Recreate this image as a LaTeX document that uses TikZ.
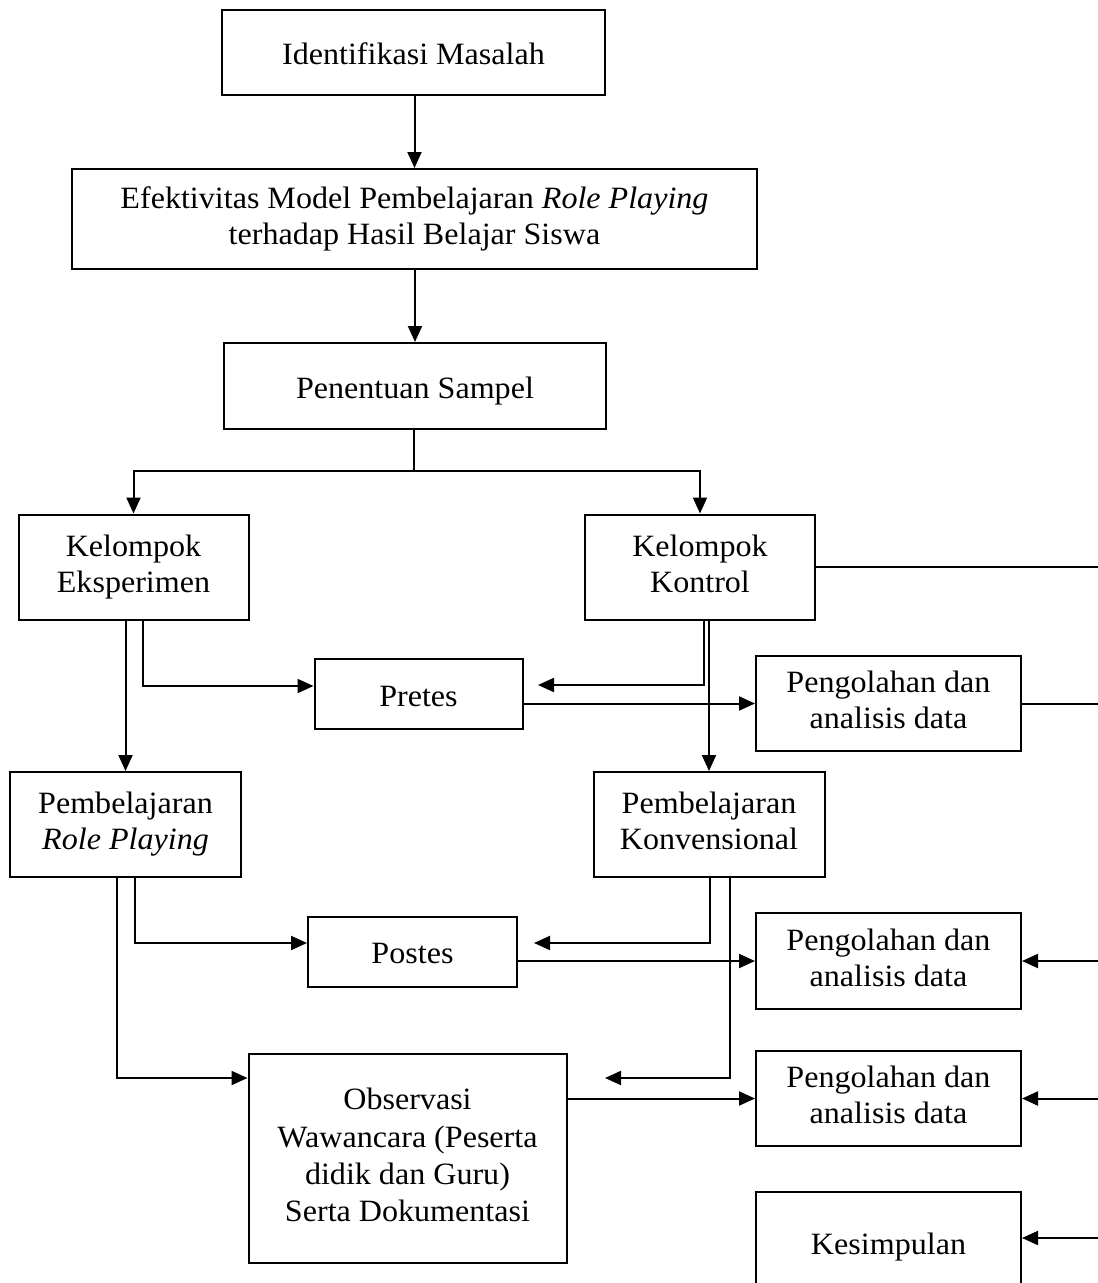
\documentclass[tikz,border=0pt]{standalone}
\usepackage{fontspec}
\setmainfont{Liberation Serif}[FakeStretch=1.035]
\usetikzlibrary{arrows.meta}
\newcommand{\bxstrut}{\vrule height 31pt depth 7pt width 0pt\relax}
\begin{document}
\begin{tikzpicture}[x=1pt,y=-1pt,
  box/.style={draw, line width=2pt, align=center, inner sep=0pt,
    font=\fontsize{31}{36}\selectfont,
    execute at begin node=\bxstrut, execute at end node=\bxstrut},
  conn/.style={line width=2pt},
  arr/.style={conn, -{Triangle[length=16pt,width=14pt]}}]
\useasboundingbox (0,0) rectangle (1098,1283);
\fill[white] (0,0) rectangle (1098,1283);
\node[box, minimum width=383, minimum height=85] (iden) at (413.5,52.5) {Identifikasi Masalah};
\node[box, minimum width=685, minimum height=100] (efek) at (414.5,219) {Efektivitas Model Pembelajaran \textit{Role Playing}\\terhadap Hasil Belajar Siswa};
\node[box, minimum width=382, minimum height=86] (pen) at (415,386) {Penentuan Sampel};
\node[box, minimum width=230, minimum height=105] (eksp) at (133.5,567) {Kelompok\\Eksperimen};
\node[box, minimum width=230, minimum height=105] (kont) at (700,567) {Kelompok\\Kontrol};
\node[box, minimum width=208, minimum height=70] (pre) at (418.5,694) {Pretes};
\node[box, minimum width=265, minimum height=95] (pa) at (888.5,703.5) {Pengolahan dan\\analisis data};
\node[box, minimum width=231, minimum height=105] (prp) at (125.5,824.5) {Pembelajaran\\\textit{Role Playing}};
\node[box, minimum width=231, minimum height=105] (konv) at (709,824.5) {Pembelajaran\\Konvensional};
\node[box, minimum width=209, minimum height=70] (post) at (412.5,951.5) {Postes};
\node[box, minimum width=265, minimum height=96] (pb) at (888.5,961) {Pengolahan dan\\analisis data};
\node[box, minimum width=318, minimum height=209, font=\fontsize{31}{37.3}\selectfont] (obs) at (407.5,1158.5) {Observasi\\Wawancara (Peserta\\didik dan Guru)\\Serta Dokumentasi};
\node[box, minimum width=265, minimum height=95] (pc) at (888.5,1098.5) {Pengolahan dan\\analisis data};
\node[box, minimum width=265, minimum height=100] (kes) at (888.5,1242) {Kesimpulan};

\coordinate (split) at (414,471);
\coordinate (rk) at (1100,567);
\coordinate (ra) at (1100,703.5);
\coordinate (rb) at (1100,961);
\coordinate (rc) at (1100,1098.5);
\coordinate (rd) at (1100,1238);
\coordinate (tpre) at (538,685);
\coordinate (tpost) at (534,943);
\coordinate (tobs) at (605,1078);

\draw[arr] (iden.south -| efek.north) -- (efek.north);
\draw[arr] (efek.south) -- (efek.south -| pen.north) -- (pen.north);
\draw[conn] (pen.south -| split) -- (split);
\draw[arr] (split) -| (eksp.north);
\draw[arr] (split) -| (kont.north);

\draw[arr] (eksp.south -| prp.north) -- (prp.north);
\draw[arr] ([xshift=9.5pt]eksp.south) |- ([yshift=8pt]pre.west);
\draw[arr] ([xshift=4pt]kont.south) |- (tpre);
\draw[arr] (kont.south -| konv.north) -- (konv.north);
\draw[arr] (pre.east |- pa.west) -- (pa.west);
\draw[conn] (kont.east) -- (rk);
\draw[conn] (pa.east) -- (ra);

\draw[arr] ([xshift=9.5pt]prp.south) |- ([yshift=8.5pt]post.west);
\draw[arr] ([xshift=-8.5pt]prp.south) |- ([yshift=80.5pt]obs.west);
\draw[arr] ([xshift=1pt]konv.south) |- (tpost);
\draw[arr] ([xshift=21pt]konv.south) |- (tobs);
\draw[arr] (post.east |- pb.west) -- (pb.west);
\draw[arr] (obs.east |- pc.west) -- (pc.west);
\draw[arr] (rb) -- (pb.east);
\draw[arr] (rc) -- (pc.east);
\draw[arr] (rd) -- (kes.east |- rd);
\end{tikzpicture}
\end{document}
